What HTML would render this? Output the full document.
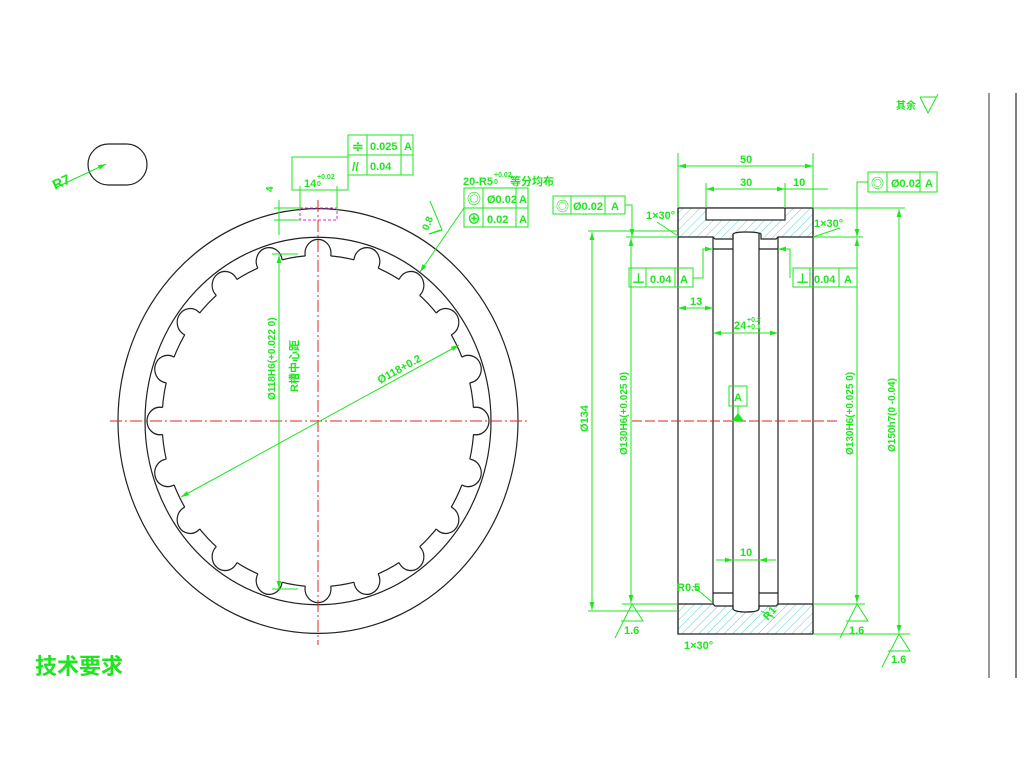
<!DOCTYPE html>
<html><head><meta charset="utf-8"><style>
html,body{margin:0;padding:0;background:#fff;width:1024px;height:770px;overflow:hidden}
svg{display:block}
text{font-family:"Liberation Sans Narrow","Liberation Sans","Noto Sans CJK SC",sans-serif;fill:#1ee61e;font-weight:bold}
</style></head><body>
<svg width="1024" height="770" viewBox="0 0 1024 770" xmlns="http://www.w3.org/2000/svg">
<defs>
<pattern id="hatch" width="6" height="6" patternUnits="userSpaceOnUse" patternTransform="rotate(45)">
<line x1="0" y1="0" x2="0" y2="6" stroke="#35c8c8" stroke-width="0.8"/>
</pattern>
<g id="grooves">
<circle cx="0" cy="-158" r="13"/>
<circle cx="0" cy="-158" r="13" transform="rotate(18)"/>
<circle cx="0" cy="-158" r="13" transform="rotate(36)"/>
<circle cx="0" cy="-158" r="13" transform="rotate(54)"/>
<circle cx="0" cy="-158" r="13" transform="rotate(72)"/>
<circle cx="0" cy="-158" r="13" transform="rotate(90)"/>
<circle cx="0" cy="-158" r="13" transform="rotate(108)"/>
<circle cx="0" cy="-158" r="13" transform="rotate(126)"/>
<circle cx="0" cy="-158" r="13" transform="rotate(144)"/>
<circle cx="0" cy="-158" r="13" transform="rotate(162)"/>
<circle cx="0" cy="-158" r="13" transform="rotate(180)"/>
<circle cx="0" cy="-158" r="13" transform="rotate(198)"/>
<circle cx="0" cy="-158" r="13" transform="rotate(216)"/>
<circle cx="0" cy="-158" r="13" transform="rotate(234)"/>
<circle cx="0" cy="-158" r="13" transform="rotate(252)"/>
<circle cx="0" cy="-158" r="13" transform="rotate(270)"/>
<circle cx="0" cy="-158" r="13" transform="rotate(288)"/>
<circle cx="0" cy="-158" r="13" transform="rotate(306)"/>
<circle cx="0" cy="-158" r="13" transform="rotate(324)"/>
<circle cx="0" cy="-158" r="13" transform="rotate(342)"/>
</g>
<mask id="m1" maskUnits="userSpaceOnUse" x="-300" y="-300" width="600" height="600">
<rect x="-300" y="-300" width="600" height="600" fill="#fff"/>
<use href="#grooves" fill="#000"/>
</mask>
<mask id="m2" maskUnits="userSpaceOnUse" x="-300" y="-300" width="600" height="600">
<rect x="-300" y="-300" width="600" height="600" fill="#fff"/>
<circle cx="0" cy="0" r="156" fill="#000"/>
</mask>
<marker id="ar" viewBox="0 0 10 6" refX="10" refY="3" markerWidth="8" markerHeight="5" orient="auto-start-reverse"><path d="M0,0L10,3L0,6z" fill="#1ee61e"/></marker>
</defs>

<line x1="989" y1="93" x2="989" y2="678" stroke="#777" stroke-width="1.5"/>
<line x1="1016" y1="93" x2="1016" y2="678" stroke="#000" stroke-width="1"/>

<rect x="88" y="144" width="59" height="41" rx="20.5" fill="none" stroke="#222" stroke-width="1.2"/>
<line x1="55" y1="188" x2="106" y2="164" stroke="#1ee61e" marker-end="url(#ar)"/>
<text x="55" y="190" font-size="14" transform="rotate(-24 55 190)">R7</text>

<g transform="translate(318,421) scale(1,1.062)" fill="none" stroke="#222" stroke-width="1.2">
<circle r="200"/>
<circle r="173"/>
<circle r="156" mask="url(#m1)"/>
<use href="#grooves" mask="url(#m2)"/>
</g>
<rect x="300" y="208" width="37" height="12" fill="none" stroke="#e020e0" stroke-dasharray="3,2"/>
<line x1="110" y1="421" x2="527" y2="421" stroke="#e02020" stroke-dasharray="12,3,2,3"/>
<line x1="318" y1="200" x2="318" y2="645" stroke="#e02020" stroke-dasharray="12,3,2,3"/>

<g stroke="#1ee61e" fill="none" stroke-width="1">
<line x1="279" y1="255" x2="279" y2="589" marker-start="url(#ar)" marker-end="url(#ar)"/>
<line x1="272" y1="254" x2="298" y2="254"/><line x1="272" y1="589" x2="298" y2="589"/>
<line x1="181" y1="497" x2="459" y2="345" marker-start="url(#ar)" marker-end="url(#ar)"/>
<rect x="292" y="157" width="56" height="33"/>
<line x1="300" y1="186" x2="300" y2="210"/><line x1="337" y1="186" x2="337" y2="210"/>
<line x1="300" y1="190" x2="337" y2="190"/>
<line x1="279" y1="200" x2="279" y2="235"/>
<line x1="274" y1="208" x2="300" y2="208"/><line x1="274" y1="220" x2="300" y2="220"/>
<rect x="348" y="135" width="65" height="40"/>
<line x1="348" y1="155" x2="413" y2="155"/>
<line x1="367" y1="135" x2="367" y2="175"/><line x1="401" y1="135" x2="401" y2="175"/>
<rect x="464" y="188" width="64" height="39"/>
<line x1="464" y1="208" x2="528" y2="208"/>
<line x1="483" y1="188" x2="483" y2="227"/><line x1="516" y1="188" x2="516" y2="227"/>
<line x1="464" y1="208" x2="420" y2="272" marker-end="url(#ar)"/>
<polyline points="430,201 442,230 429,234 440,230"/>
<line x1="429" y1="234" x2="442" y2="230"/>
</g>
<text x="304" y="187" font-size="11">14</text><text x="317" y="179" font-size="7">+0.02</text><text x="317" y="186" font-size="7">0</text>
<text x="273" y="192" font-size="10" transform="rotate(-90 273 192)">4</text>
<text x="352" y="151" font-size="14">≑</text><text x="370" y="150" font-size="11">0.025</text><text x="404" y="150" font-size="11">A</text>
<text x="352" y="171" font-size="12">//</text><text x="370" y="170" font-size="11">0.04</text>
<text x="463" y="185" font-size="11">20-R5</text><text x="494" y="177" font-size="7">+0.02</text><text x="494" y="184" font-size="7">0</text><text x="510" y="185" font-size="11">等分均布</text>
<text x="467" y="204" font-size="14">◎</text><text x="487" y="203" font-size="11">Ø0.02</text><text x="519" y="203" font-size="11">A</text>
<text x="467" y="224" font-size="14">⊕</text><text x="487" y="223" font-size="11">0.02</text><text x="519" y="223" font-size="11">A</text>
<text x="428" y="231" font-size="10" transform="rotate(-68 428 231)">0.8</text>
<text x="275" y="400" font-size="10" transform="rotate(-90 275 400)">Ø118H6(+0.022 0)</text>
<text x="298" y="392" font-size="11" transform="rotate(-90 298 392)">R槽中心距</text>
<text x="380" y="384" font-size="11" transform="rotate(-29 380 384)">Ø118+0.2</text>

<g stroke="#222" stroke-width="1.2">
<path d="M678,208 H813 V237 H778 L776,239 H761 V234 Q758,232 746,232 Q735,232 733,234 V239 H715 L713,237 H678Z" fill="url(#hatch)"/>
<rect x="706" y="208" width="79" height="12" fill="#fff"/>
<path d="M678,604 H713 L715,606 H733 V609 Q735,612 746,612 Q758,612 759,609 V606 H776 L778,604 H813 V634 H678Z" fill="url(#hatch)"/>
<g fill="none">
<line x1="678" y1="208" x2="678" y2="634"/><line x1="813" y1="208" x2="813" y2="634"/>
<line x1="713" y1="237" x2="713" y2="604"/><line x1="778" y1="237" x2="778" y2="604"/>
<line x1="733" y1="234" x2="733" y2="609"/><line x1="759" y1="234" x2="759" y2="609"/>
<line x1="713" y1="249" x2="733" y2="249"/><line x1="759" y1="249" x2="778" y2="249"/>
<line x1="713" y1="593" x2="733" y2="593"/><line x1="759" y1="593" x2="778" y2="593"/>
</g>
</g>
<line x1="632" y1="421" x2="840" y2="421" stroke="#e02020" stroke-dasharray="10,3"/>

<g stroke="#1ee61e" fill="none" stroke-width="1">
<line x1="678" y1="153" x2="678" y2="208"/><line x1="813" y1="153" x2="813" y2="208"/>
<line x1="678" y1="166" x2="813" y2="166" marker-start="url(#ar)" marker-end="url(#ar)"/>
<line x1="706" y1="183" x2="706" y2="208"/><line x1="785" y1="183" x2="785" y2="208"/>
<line x1="706" y1="189" x2="785" y2="189" marker-start="url(#ar)" marker-end="url(#ar)"/>
<line x1="785" y1="189" x2="828" y2="189"/>
<line x1="588" y1="231" x2="678" y2="231"/><line x1="588" y1="611" x2="678" y2="611"/>
<line x1="592" y1="232" x2="592" y2="610" marker-start="url(#ar)" marker-end="url(#ar)"/>
<line x1="626" y1="237" x2="678" y2="237"/><line x1="622" y1="604" x2="678" y2="604"/>
<line x1="631" y1="238" x2="631" y2="603" marker-start="url(#ar)" marker-end="url(#ar)"/>
<line x1="813" y1="237" x2="863" y2="237"/><line x1="813" y1="604" x2="865" y2="604"/>
<line x1="857" y1="238" x2="857" y2="603" marker-start="url(#ar)" marker-end="url(#ar)"/>
<line x1="813" y1="208" x2="905" y2="208"/><line x1="813" y1="634" x2="910" y2="634"/>
<line x1="899" y1="209" x2="899" y2="633" marker-start="url(#ar)" marker-end="url(#ar)"/>
<line x1="678" y1="308" x2="713" y2="308" marker-start="url(#ar)" marker-end="url(#ar)"/>
<line x1="713" y1="333" x2="778" y2="333" marker-start="url(#ar)" marker-end="url(#ar)"/>
<line x1="716" y1="560" x2="733" y2="560" marker-end="url(#ar)"/><line x1="776" y1="560" x2="759" y2="560" marker-end="url(#ar)"/>
<line x1="733" y1="560" x2="759" y2="560"/>
<line x1="657" y1="222" x2="678" y2="236"/><line x1="813" y1="237" x2="840" y2="228"/>
<line x1="693" y1="586" x2="712" y2="602"/><line x1="761" y1="611" x2="775" y2="618"/>
<rect x="553" y="196" width="72" height="18"/><line x1="571" y1="196" x2="571" y2="214"/><line x1="605" y1="196" x2="605" y2="214"/>
<polyline points="625,205 632,205 632,237" marker-end="url(#ar)"/>
<rect x="629" y="268" width="64" height="19"/><line x1="646" y1="268" x2="646" y2="287"/><line x1="675" y1="268" x2="675" y2="287"/>
<polyline points="693,278 703,278 703,249 713,249" marker-end="url(#ar)"/>
<rect x="793" y="268" width="64" height="19"/><line x1="810" y1="268" x2="810" y2="287"/><line x1="839" y1="268" x2="839" y2="287"/>
<polyline points="790,278 790,249 778,249" marker-end="url(#ar)"/>
<rect x="868" y="172" width="69" height="20"/><line x1="887" y1="172" x2="887" y2="192"/><line x1="920" y1="172" x2="920" y2="192"/>
<polyline points="868,182 857,182 857,237" marker-end="url(#ar)"/>
<rect x="729" y="386" width="18" height="20"/><line x1="738" y1="406" x2="738" y2="415"/>
<polyline points="615,638 632,604 643,621 621,621"/>
<polyline points="840,638 857,604 868,621 846,621"/>
<polyline points="882,667 899,634 910,651 888,651"/>
<polyline points="920,97 928,113 938,94"/>
<line x1="920" y1="97" x2="936" y2="97"/>
</g>
<path d="M732,421 L738,413 L744,421Z" fill="#1ee61e"/>

<g font-size="11">
<text x="740" y="163">50</text><text x="740" y="186">30</text><text x="793" y="186">10</text>
<text x="646" y="219">1×30°</text><text x="814" y="227">1×30°</text><text x="684" y="649">1×30°</text>
<text x="690" y="305">13</text><text x="734" y="329">24</text><text x="747" y="322" font-size="7">+0.2</text><text x="747" y="329" font-size="7">+0.1</text>
<text x="740" y="556">10</text><text x="677" y="591">R0.5</text><text x="768" y="621" transform="rotate(-50 768 621)">R1</text>
<text x="734" y="401">A</text>
<text x="556" y="211" font-size="13">◎</text><text x="573" y="210">Ø0.02</text><text x="611" y="210">A</text>
<text x="632" y="283" font-size="13">⊥</text><text x="650" y="283">0.04</text><text x="680" y="283">A</text>
<text x="796" y="283" font-size="13">⊥</text><text x="814" y="283">0.04</text><text x="844" y="283">A</text>
<text x="871" y="188" font-size="13">◎</text><text x="891" y="187">Ø0.02</text><text x="925" y="187">A</text>
<text x="588" y="432" transform="rotate(-90 588 432)">Ø134</text>
<text x="627" y="455" font-size="10" transform="rotate(-90 627 455)">Ø130H6(+0.025 0)</text>
<text x="853" y="455" font-size="10" transform="rotate(-90 853 455)">Ø130H6(+0.025 0)</text>
<text x="895" y="452" font-size="10" transform="rotate(-90 895 452)">Ø150h7(0 -0.04)</text>
<text x="624" y="634">1.6</text><text x="849" y="634">1.6</text><text x="891" y="663">1.6</text>
<text x="896" y="109" font-size="10">其余</text>
</g>
<text x="35" y="674" font-size="22" style="font-family:'Noto Sans CJK SC',sans-serif">技术要求</text>
</svg>
</body></html>
